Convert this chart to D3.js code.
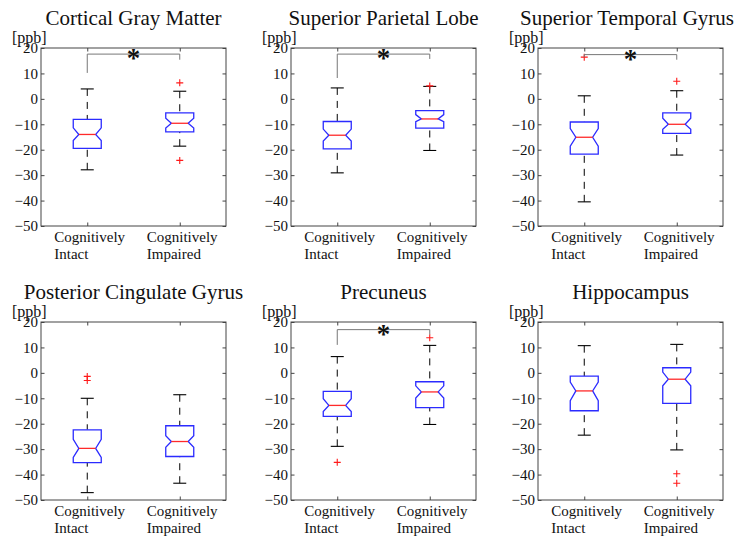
<!DOCTYPE html>
<html lang="en">
<head>
<meta charset="UTF-8" />
<title>Boxplots by region</title>
<script src="https://cdn.jsdelivr.net/npm/d3@7"></script>
<style>
  body { margin: 0; background: #fff; }
</style>
</head>
<body>
<svg id="chart" width="736" height="539"></svg>
<script>
  // values, [intact, impaired] per region
  const regions = ["Cortical Gray Matter", "Superior Parietal Lobe", "Superior Temporal Gyrus",
                   "Posterior Cingulate Gyrus", "Precuneus", "Hippocampus"];
  const groups = [["Cognitively", "Intact"], ["Cognitively", "Impaired"]];
  const yTicks = [20, 10, 0, -10, -20, -30, -40, -50];

  const lowerWhisker = [[-27.9, -18.6], [-29.1, -20.3], [-40.5, -22.1], [-47.1, -43.4], [-28.9, -20.3], [-24.5, -30.3]];
  const q1           = [[-19.5, -13.0], [-19.7, -11.5], [-21.7, -13.6], [-35.3, -32.9], [-17.1, -13.7], [-14.9, -12.0]];
  const median       = [[-14.0,  -9.6], [-14.3,  -7.9], [-15.1, -10.0], [-29.7, -27.0], [-12.8,  -7.5], [ -7.1,  -2.5]];
  const q3           = [[ -8.1,  -5.5], [ -8.9,  -4.6], [ -9.1,  -5.5], [-22.4, -20.8], [ -7.3,  -3.5], [ -1.3,   2.0]];
  const upperWhisker = [[  3.9,   3.0], [  4.3,   4.9], [  1.2,   3.2], [-10.0,  -8.6], [  6.4,  10.8], [ 10.7,  11.2]];
  const notchLow     = [[-16.4, -11.5], [-16.6,  -9.0], [-18.6, -12.0], [-33.3, -29.3], [-15.2,  -9.9], [-10.9,  -5.1]];
  const notchHigh    = [[-11.4,  -7.6], [-11.9,  -6.2], [-11.7,  -7.6], [-26.1, -24.7], [-10.2,  -5.1], [ -3.6,   0.3]];
  const outliers = [
    [[], [6.3, -24.2]],
    [[], [5.1]],
    [[16.4], [6.9]],
    [[-1.4, -3.0], []],
    [[-35.2], [13.8]],
    [[], [-39.7, -43.4]]
  ];
  // significance bracket: level and where each leg ends (null = none)
  const bracketLevel = [17.6, 17.6, 17.4, null, 17.0, null];
  const bracketLegs  = [[10.2, 15.4], [8.2, 15.7], [16.4, 15.4], null, [11.0, 15.1], null];

  // layout
  const colLeft = [41, 291, 538];
  const rowTop = [48, 322];
  const plotW = 185, plotH = 178;
  const boxW = 28, capW = 13, notchInset = 0.2;
  const serif = '"Liberation Serif", "Times New Roman", serif';

  const svg = d3.select("#chart");

  const label = (sel, size) => sel.style("font-family", serif)
    .style("font-size", size + "px").style("fill", "#111");

  regions.forEach((name, i) => {
    const gx = colLeft[i % 3];
    const g = svg.append("g")
      .attr("transform", `translate(${gx},${rowTop[Math.floor(i / 3)]})`);

    const x = d3.scaleLinear().domain([0.5, 2.5]).range([0, plotW]);
    const y = d3.scaleLinear().domain([-50, 20]).range([plotH, 0]);

    // frame + inside ticks
    g.append("rect").attr("width", plotW).attr("height", plotH)
      .attr("fill", "none").attr("stroke", "#444").attr("stroke-width", 1);

    const left = g.append("g").call(d3.axisLeft(y).tickValues(yTicks)
      .tickSizeInner(-3.5).tickSizeOuter(0).tickPadding(3));
    const right = g.append("g").attr("transform", `translate(${plotW},0)`)
      .call(d3.axisRight(y).tickValues(yTicks).tickSizeInner(-3.5).tickSizeOuter(0).tickFormat(""));
    const bottom = g.append("g").attr("transform", `translate(0,${plotH})`)
      .call(d3.axisBottom(x).tickValues([1, 2]).tickSizeInner(-3.5).tickSizeOuter(0).tickFormat(""));
    const top = g.append("g")
      .call(d3.axisTop(x).tickValues([1, 2]).tickSizeInner(-3.5).tickSizeOuter(0).tickFormat(""));
    [left, right, bottom, top].forEach(a => {
      a.select(".domain").remove();
      a.selectAll("line").attr("stroke", "#444");
    });
    label(left.selectAll("text"), 15);

    // title and unit
    const t = g.append("text").attr("x", plotW / 2).attr("y", -23)
      .attr("text-anchor", "middle").text(name);
    label(t, 21);
    const tw = t.node().getComputedTextLength();
    if (gx + plotW / 2 + tw / 2 > 734) t.attr("x", 734 - gx - tw / 2);

    label(g.append("text").attr("x", -29).attr("y", -5).text("[ppb]"), 16);

    // group labels
    groups.forEach((lines, j) => {
      const lab = g.append("text").attr("x", x(j + 1) - 33).attr("y", plotH + 16);
      label(lab, 15);
      lines.forEach((s, k) => lab.append("tspan")
        .attr("x", x(j + 1) - 33).attr("dy", k ? 17 : 0).text(s));
    });

    // boxes
    [0, 1].forEach(j => {
      const cx = x(j + 1);
      const hw = boxW / 2, nw = hw - boxW * notchInset;

      // whiskers
      [[q3[i][j], upperWhisker[i][j]], [q1[i][j], lowerWhisker[i][j]]].forEach(([from, to]) => {
        g.append("line").attr("x1", cx).attr("x2", cx)
          .attr("y1", y(to)).attr("y2", y(from))
          .attr("stroke", "#000").attr("stroke-width", 1).attr("stroke-dasharray", "7,6");
        g.append("line").attr("x1", cx - capW / 2).attr("x2", cx + capW / 2)
          .attr("y1", y(to)).attr("y2", y(to))
          .attr("stroke", "#000").attr("stroke-width", 1.1);
      });

      // notched box
      const pts = [
        [cx - hw, y(q3[i][j])], [cx + hw, y(q3[i][j])],
        [cx + hw, y(notchHigh[i][j])], [cx + nw, y(median[i][j])], [cx + hw, y(notchLow[i][j])],
        [cx + hw, y(q1[i][j])], [cx - hw, y(q1[i][j])],
        [cx - hw, y(notchLow[i][j])], [cx - nw, y(median[i][j])], [cx - hw, y(notchHigh[i][j])]
      ];
      g.append("path").attr("d", d3.line()(pts) + "Z")
        .attr("fill", "#fff").attr("stroke", "#2b2bff").attr("stroke-width", 1.3);
      g.append("line").attr("x1", cx - nw).attr("x2", cx + nw)
        .attr("y1", y(median[i][j])).attr("y2", y(median[i][j]))
        .attr("stroke", "#ff2a2a").attr("stroke-width", 1.3);

      // outliers
      g.selectAll(null).data(outliers[i][j]).enter().append("path")
        .attr("d", v => `M${cx - 3.5},${y(v)}H${cx + 3.5}M${cx},${y(v) - 3.5}V${y(v) + 3.5}`)
        .attr("stroke", "#ff1a1a").attr("stroke-width", 1.1);
    });

    // significance bracket
    if (bracketLevel[i] !== null) {
      const by = y(bracketLevel[i]);
      const [l0, l1] = bracketLegs[i];
      g.append("path")
        .attr("d", `M${x(1)},${y(l0)}V${by}H${x(2)}V${y(l1)}`)
        .attr("fill", "none").attr("stroke", "#777").attr("stroke-width", 1);
      const star = g.append("text").attr("x", (x(1) + x(2)) / 2).attr("y", by + 13)
        .attr("text-anchor", "middle").style("font-weight", "bold").text("*");
      label(star, 27);
    }
  });
</script>
</body>
</html>
